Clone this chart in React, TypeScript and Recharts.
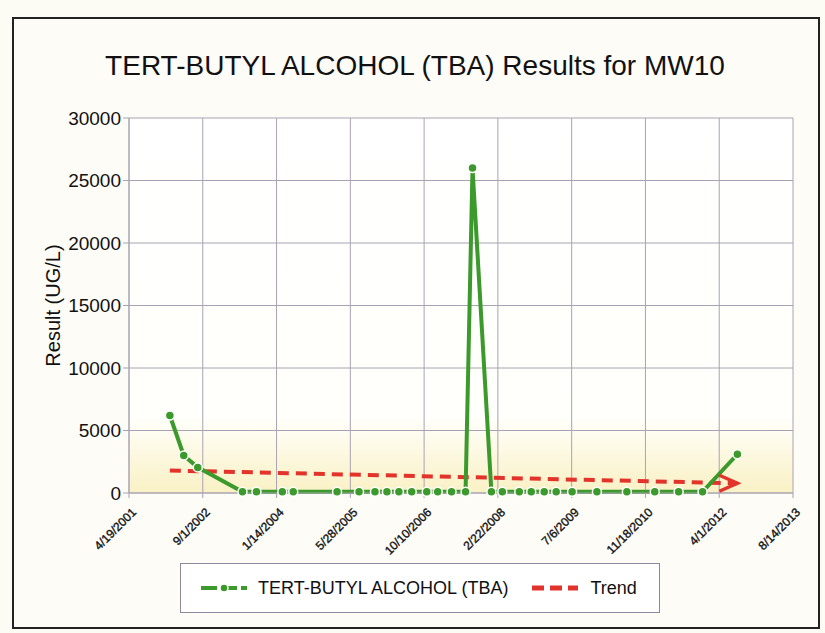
import { CartesianGrid, ComposedChart, Legend, Line, XAxis, YAxis } from "recharts";

const START = "4/19/2001";

const TICK_DATES = [
  "4/19/2001", "9/1/2002", "1/14/2004", "5/28/2005", "10/10/2006",
  "2/22/2008", "7/6/2009", "11/18/2010", "4/1/2012", "8/14/2013",
];

const SAMPLE_DATES = [
  "1/21/2002", "4/25/2002", "7/29/2002", "5/28/2003", "8/31/2003",
  "2/22/2004", "5/6/2004", "2/27/2005", "7/26/2005", "11/11/2005",
  "1/31/2006", "4/22/2006", "7/18/2006", "10/28/2006", "1/10/2007",
  "4/14/2007", "7/18/2007", "9/3/2007", "1/9/2008", "3/23/2008",
  "7/16/2008", "10/5/2008", "1/1/2009", "3/23/2009", "7/9/2009",
  "12/24/2009", "7/15/2010", "1/20/2011", "7/1/2011", "12/10/2011",
  "8/2/2012",
];

const TBA = [
  6200, 3000, 2050, 100, 100,
  100, 100, 100, 100, 100,
  100, 100, 100, 100, 100,
  100, 100, 26000, 100, 100,
  100, 100, 100, 100, 100,
  100, 100, 100, 100, 100,
  3100,
];

const TREND_DATES = ["1/21/2002", "8/2/2012"];
const TREND = [1800, 780];

const Y_TICKS = [0, 5000, 10000, 15000, 20000, 25000, 30000];

const GREEN = "#3b9a2b";
const RED = "#e3342c";
const GRID = "#aaa2b2";
const FONT = "'Liberation Sans', Arial, sans-serif";

function dayOf(s: string) {
  const [m, d, y] = s.split("/").map(Number);
  const [m0, d0, y0] = START.split("/").map(Number);
  return Math.round((Date.UTC(y, m - 1, d) - Date.UTC(y0, m0 - 1, d0)) / 86400000);
}

const tickDays = TICK_DATES.map(dayOf);
const data = SAMPLE_DATES.map((s, i) => ({ day: dayOf(s), tba: TBA[i] }));
const trendData = TREND_DATES.map((s, i) => ({ day: dayOf(s), trend: TREND[i] }));

function XTick(props: any) {
  const { x, y, payload } = props;
  const label = TICK_DATES[tickDays.indexOf(payload.value)] ?? "";
  const ax = x + 8;
  const ay = y + 13;
  return (
    <text
      x={ax}
      y={ay}
      transform={`rotate(-45 ${ax} ${ay})`}
      textAnchor="end"
      fontSize={12}
      fontFamily={FONT}
      fill="#111"
      stroke="#111"
      strokeWidth={0.35}
    >
      {label}
    </text>
  );
}

function TrendDot(props: any) {
  const { cx, cy, index } = props;
  if (index !== trendData.length - 1) return <g key={index} />;
  return (
    <path
      key={index}
      d={`M${cx - 18},${cy - 8} L${cx},${cy} L${cx - 18},${cy + 8}`}
      fill="none"
      stroke={RED}
      strokeWidth={3.5}
    />
  );
}

function LegendBox() {
  return (
    <div
      style={{
        width: 480,
        height: 50,
        boxSizing: "border-box",
        border: "1.5px solid #8e889a",
        background: "#fff",
        display: "flex",
        alignItems: "center",
        fontFamily: FONT,
        fontSize: 18,
        color: "#111",
        paddingLeft: 18,
      }}
    >
      <svg width={50} height={12} style={{ marginRight: 9 }}>
        <line x1={2} y1={6} x2={48} y2={6} stroke={GREEN} strokeWidth={4} strokeDasharray="16 4" />
        <circle cx={25} cy={6} r={4} fill={GREEN} stroke="#fff" strokeWidth={1.5} />
      </svg>
      <span>TERT-BUTYL ALCOHOL (TBA)</span>
      <svg width={50} height={12} style={{ marginLeft: 22, marginRight: 10 }}>
        <line x1={2} y1={6} x2={48} y2={6} stroke={RED} strokeWidth={5} strokeDasharray="12 6" />
      </svg>
      <span>Trend</span>
    </div>
  );
}

export default function App() {
  return (
    <div
      style={{
        position: "absolute",
        left: 0,
        top: 0,
        width: 825,
        height: 633,
        background: "#fcfbf4",
        overflow: "hidden",
      }}
    >
      <div
        style={{
          position: "absolute",
          left: 12,
          top: 17,
          width: 804,
          height: 608,
          border: "2px solid #222",
          background: "#fdfcf7",
        }}
      />
      <div
        style={{
          position: "absolute",
          left: 0,
          width: 830,
          top: 50,
          textAlign: "center",
          fontFamily: FONT,
          fontSize: 28,
          lineHeight: "32px",
          color: "#111",
        }}
      >
        TERT-BUTYL ALCOHOL (TBA) Results for MW10
      </div>
      <div style={{ position: "absolute", left: 0, top: 0 }}>
        <ComposedChart
          width={825}
          height={633}
          data={data}
          margin={{ top: 118, right: 32, bottom: 10, left: 20 }}
        >
          <defs>
            <linearGradient id="plotBg" x1="0" y1="0" x2="0" y2="1">
              <stop offset="0%" stopColor="#ffffff" />
              <stop offset="80%" stopColor="#fffffb" />
              <stop offset="100%" stopColor="#f9f1c4" />
            </linearGradient>
          </defs>
          <CartesianGrid stroke={GRID} fill="url(#plotBg)" fillOpacity={1} />
          <XAxis
            type="number"
            dataKey="day"
            domain={[0, tickDays[tickDays.length - 1]]}
            ticks={tickDays}
            interval={0}
            tick={<XTick />}
            tickLine={{ stroke: GRID }}
            tickSize={5}
            axisLine={{ stroke: GRID }}
            height={80}
          />
          <YAxis
            type="number"
            domain={[0, 30000]}
            ticks={Y_TICKS}
            interval={0}
            width={109}
            tickSize={6}
            tickLine={{ stroke: GRID }}
            axisLine={{ stroke: GRID }}
            tick={{ fontSize: 19, fontFamily: FONT, fill: "#111" }}
            label={{
              value: "Result (UG/L)",
              angle: -90,
              position: "center",
              dx: -22,
              style: { fontSize: 20, fontFamily: FONT, fill: "#111" },
            }}
          />
          <Line
            type="linear"
            data={trendData}
            dataKey="trend"
            stroke={RED}
            strokeWidth={4}
            strokeDasharray="11 7"
            dot={<TrendDot />}
            activeDot={false}
            isAnimationActive={false}
            legendType="none"
          />
          <Line
            type="linear"
            dataKey="tba"
            stroke={GREEN}
            strokeWidth={4}
            dot={{ r: 4.5, fill: GREEN, stroke: "#fff", strokeWidth: 1.5 }}
            activeDot={false}
            isAnimationActive={false}
          />
          <Legend
            content={<LegendBox />}
            wrapperStyle={{ position: "absolute", left: 180, top: 563, width: 480, height: 50 }}
          />
        </ComposedChart>
      </div>
    </div>
  );
}
